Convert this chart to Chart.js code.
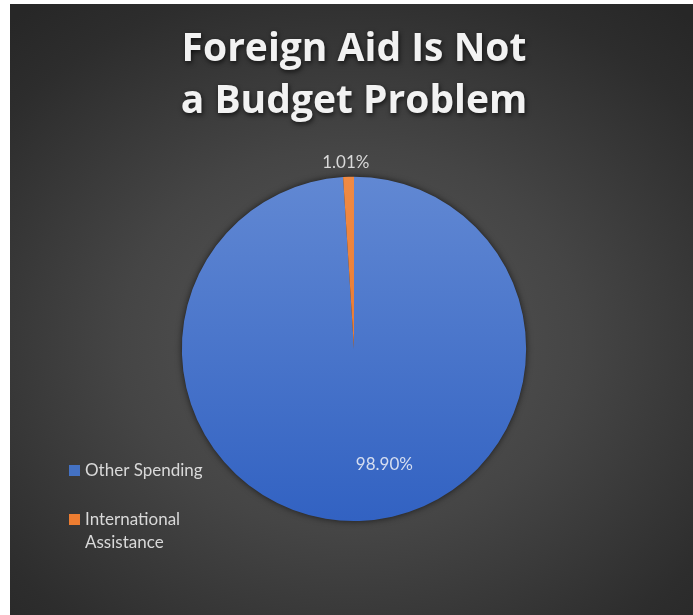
<!DOCTYPE html>
<html>
<head>
<meta charset="utf-8">
<script src="https://cdn.jsdelivr.net/npm/chart.js@4/dist/chart.umd.min.js"></script>
<style>
    html, body { margin: 0; padding: 0; background: #fff; }
    #wrap {
        position: absolute;
        left: 10px; top: 4px;
        width: 683px; height: 611px;
        background: radial-gradient(ellipse 75% 70% at 50% 55%, #585858 0%, #454545 45%, #2d2d2d 85%, #272727 100%);
    }
    canvas { display: block; }
</style>
</head>
<body>
<div id="wrap"><canvas id="aid-chart" width="683" height="611"></canvas></div>
<script>
// budget share, percent
const categories = ['Other Spending', 'International Assistance'];
const shares = [98.90, 1.01];
const titleLines = ['Foreign Aid Is Not', 'a Budget Problem'];

const sliceColors = [
    ['#6188d3', '#3262c2'],   // blue, top -> bottom
    ['#f08a44', '#e36d22']    // orange
];
const legendSwatch = ['#4472c4', '#ed7d31'];

const FONT = 'Lato, "Open Sans", sans-serif';

function sliceFill(ctx) {
    const chart = ctx.chart;
    const area = chart.chartArea;
    if (!area) return sliceColors[ctx.dataIndex][0];
    const g = chart.ctx.createLinearGradient(0, area.top, 0, area.bottom);
    g.addColorStop(0, sliceColors[ctx.dataIndex][0]);
    g.addColorStop(1, sliceColors[ctx.dataIndex][1]);
    return g;
}

// soft shadow under the title text, then a dark rim behind the pie
const pieShadow = {
    id: 'pieShadow',
    beforeDraw(chart) {
        const c = chart.ctx;
        c.shadowColor = 'rgba(0,0,0,0.7)';
        c.shadowBlur = 5;
        c.shadowOffsetX = 1;
        c.shadowOffsetY = 2;
    },
    beforeDatasetsDraw(chart) {
        const c = chart.ctx;
        c.shadowColor = 'rgba(0,0,0,0)';
        c.shadowBlur = 0;
        c.shadowOffsetX = 0;
        c.shadowOffsetY = 0;
        const arc = chart.getDatasetMeta(0).data[0];
        if (!arc) return;
        c.save();
        c.shadowColor = 'rgba(0,0,0,0.55)';
        c.shadowBlur = 6;
        c.beginPath();
        c.arc(arc.x, arc.y, arc.outerRadius + 0.5, 0, Math.PI * 2);
        c.fillStyle = '#333';
        c.fill();
        c.restore();
    }
};

// percent labels: inside for the big slice, just past the rim for the thin one
const sliceLabels = {
    id: 'sliceLabels',
    afterDatasetsDraw(chart, args, opts) {
        const c = chart.ctx;
        const meta = chart.getDatasetMeta(0);
        c.save();
        c.font = opts.font;
        c.textAlign = 'center';
        c.textBaseline = 'middle';
        meta.data.forEach((arc, i) => {
            const p = arc.getProps(['x', 'y', 'startAngle', 'endAngle', 'outerRadius']);
            const mid = (p.startAngle + p.endAngle) / 2 + opts.angleShift[i] * Math.PI / 180;
            const r = opts.place[i] === 'outside' ? p.outerRadius + opts.outsideGap : p.outerRadius * opts.insideFrac;
            c.fillStyle = opts.colors[i];
            c.fillText(shares[i].toFixed(2) + '%', p.x + Math.cos(mid) * r, p.y + Math.sin(mid) * r);
        });
        c.restore();
    }
};

// legend on the left, long names wrap onto a second line
const sideLegend = {
    id: 'sideLegend',
    afterDraw(chart, args, opts) {
        const c = chart.ctx;
        c.save();
        c.font = opts.font;
        c.textBaseline = 'middle';
        let y = opts.top;
        categories.forEach((name, i) => {
            const lines = [];
            let cur = '';
            name.split(' ').forEach(w => {
                const t = cur ? cur + ' ' + w : w;
                if (c.measureText(t).width > opts.maxWidth && cur) { lines.push(cur); cur = w; }
                else cur = t;
            });
            lines.push(cur);
            c.fillStyle = legendSwatch[i];
            c.fillRect(opts.left, y - opts.box / 2, opts.box, opts.box);
            c.fillStyle = opts.color;
            lines.forEach((ln, k) => c.fillText(ln, opts.left + opts.box + 5, y + k * opts.lineHeight));
            y += (lines.length - 1) * opts.lineHeight + opts.gap;
        });
        c.restore();
    }
};

new Chart('aid-chart', {
    type: 'pie',
    data: {
        labels: categories,
        datasets: [{
            data: shares,
            backgroundColor: sliceFill,
            borderWidth: 0
        }]
    },
    options: {
        responsive: false,
        animation: false,
        layout: { padding: { top: 0, bottom: 94, left: 170, right: 165 } },
        plugins: {
            legend: { display: false },
            tooltip: { enabled: false },
            title: {
                display: true,
                text: titleLines,
                color: '#f2f2f2',
                font: { family: '"Open Sans", Lato, sans-serif', size: 39, weight: 'bold', lineHeight: 1.33 },
                padding: { top: 20, bottom: 49 }
            },
            sliceLabels: {
                font: '17px ' + FONT,
                colors: ['#d6def0', '#d9d9d9'],
                place: ['inside', 'outside'],
                insideFrac: 0.695,
                outsideGap: 14,
                angleShift: [-12.9, -0.7]
            },
            sideLegend: {
                font: '17px ' + FONT,
                color: '#d9d9d9',
                left: 59, top: 466.5,
                box: 11, lineHeight: 23, gap: 49, maxWidth: 125
            }
        }
    },
    plugins: [pieShadow, sliceLabels, sideLegend]
});
</script>
</body>
</html>
